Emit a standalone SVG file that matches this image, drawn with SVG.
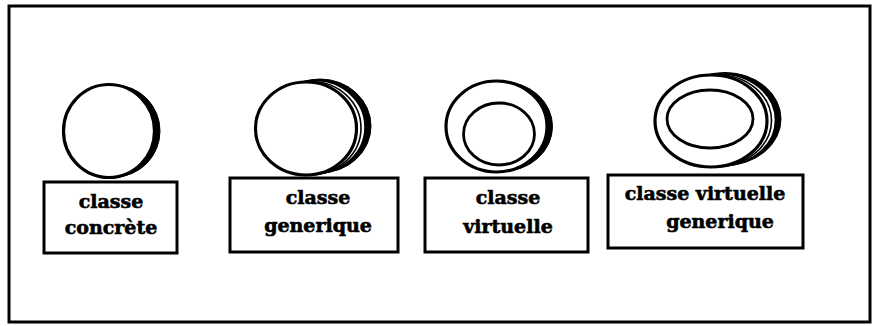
<svg xmlns="http://www.w3.org/2000/svg" width="876" height="326" viewBox="0 0 876 326">
<style>
.frame{fill:#fff;stroke:#000;stroke-width:3}
.box{fill:#fff;stroke:#000;stroke-width:3}
.main{fill:#fff;stroke:#000;stroke-width:3.2}
.inner{fill:#fff;stroke:#000;stroke-width:2.8}
.layer{fill:#fff;stroke:#000;stroke-width:1.6}
.shadow{fill:#000;stroke:#000;stroke-width:1}
text{font-family:"DejaVu Serif","Liberation Serif",serif;font-weight:bold;font-size:19px;text-anchor:middle;fill:#000;stroke:#000;stroke-width:0.6}
</style>
<rect x="0" y="0" width="876" height="326" fill="#fff"/>
<rect class="frame" x="9" y="6" width="861" height="316"/>
<g id="classe-concrete">
<ellipse class="shadow" cx="114.5" cy="131" rx="45.5" ry="46"/>
<ellipse class="main" cx="109" cy="131" rx="45.5" ry="46.5"/>
<rect class="box" x="44" y="182" width="133" height="71"/>
<text x="111" y="208">classe</text>
<text x="111" y="234">concrète</text>
</g>
<g id="classe-generique">
<ellipse class="shadow" cx="320" cy="126" rx="51" ry="47"/>
<ellipse class="layer" cx="315" cy="127" rx="50" ry="46.5"/>
<ellipse class="layer" cx="311" cy="128" rx="50" ry="46.5"/>
<ellipse class="main" cx="306" cy="128.5" rx="50.5" ry="46.5"/>
<rect class="box" x="230" y="178" width="168" height="74"/>
<text x="318" y="204">classe</text>
<text x="318" y="232">generique</text>
</g>
<g id="classe-virtuelle">
<ellipse class="shadow" cx="502" cy="126.5" rx="50.5" ry="45"/>
<ellipse class="main" cx="496.5" cy="126.5" rx="50.5" ry="45.5"/>
<ellipse class="inner" cx="499" cy="134" rx="35.5" ry="31"/>
<rect class="box" x="425" y="178" width="163" height="74"/>
<text x="508" y="204">classe</text>
<text x="508" y="233">virtuelle</text>
</g>
<g id="classe-virtuelle-generique">
<ellipse class="shadow" cx="725" cy="119" rx="56" ry="46.5"/>
<ellipse class="layer" cx="720" cy="120" rx="55.5" ry="46"/>
<ellipse class="layer" cx="716" cy="120.5" rx="55.5" ry="46"/>
<ellipse class="main" cx="711" cy="121" rx="56" ry="46"/>
<ellipse class="inner" cx="710" cy="119" rx="43" ry="29"/>
<rect class="box" x="608" y="175" width="195" height="73"/>
<text x="705" y="200">classe virtuelle</text>
<text x="720" y="228">generique</text>
</g>
<g id="connectors"></g>
</svg>
